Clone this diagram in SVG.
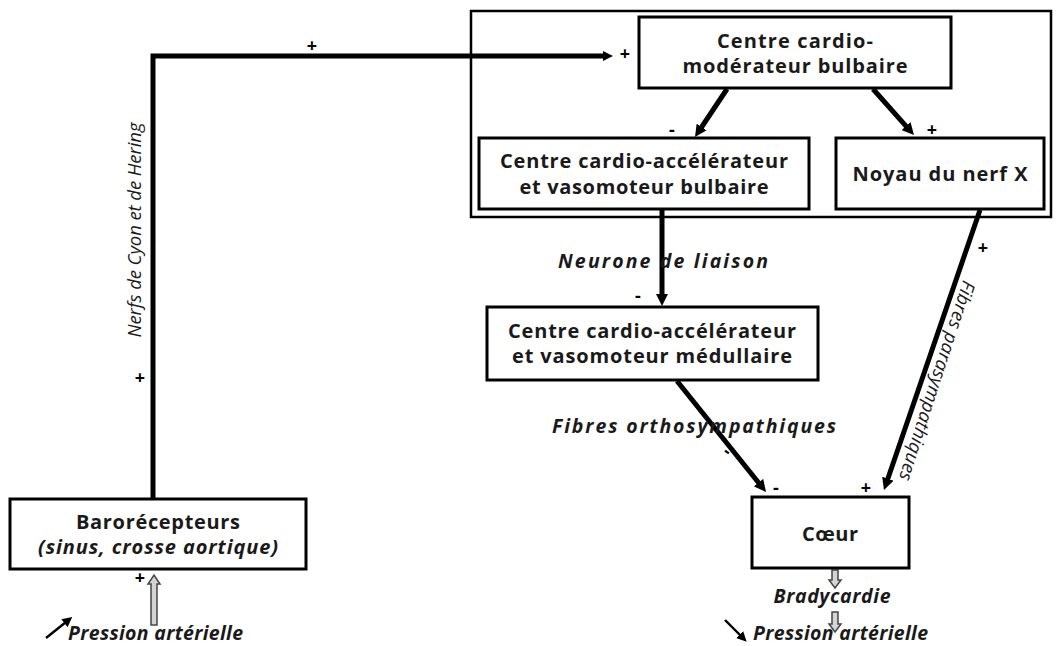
<svg xmlns="http://www.w3.org/2000/svg" width="1057" height="646" viewBox="0 0 1057 646">
<defs>
<style>
.box{fill:#fff;stroke:#000;stroke-width:3}
.cont{fill:none;stroke:#000;stroke-width:2.5}
.t{font-family:"Open Sans","Liberation Sans",sans-serif;font-weight:bold;font-size:20px;fill:#1a1a1a;text-anchor:middle}
.bi{font-family:"Open Sans","Liberation Sans",sans-serif;font-weight:bold;font-style:italic;font-size:19.5px;fill:#1a1a1a}
.it{font-family:"Open Sans","Liberation Sans",sans-serif;font-style:italic;font-size:18.5px;fill:#1a1a1a}
.sg{font-family:"Open Sans","Liberation Sans",sans-serif;font-weight:bold;font-size:18px;fill:#000;text-anchor:middle}
.ln{fill:none;stroke:#000;stroke-width:5}
.hol{fill:#d4d4d4;stroke:#444;stroke-width:1.5}
</style>
<marker id="ah" markerUnits="userSpaceOnUse" markerWidth="14" markerHeight="12" refX="3" refY="6" orient="auto">
<path d="M0,0 L12,6 L0,12 z" fill="#000"/>
</marker>
<marker id="ahs" markerUnits="userSpaceOnUse" markerWidth="12" markerHeight="10" refX="2" refY="5" orient="auto">
<path d="M0,0 L10,5 L0,10 z" fill="#000"/>
</marker>
</defs>
<rect width="1057" height="646" fill="#fff"/>

<g id="conteneur-bulbe"><rect class="cont" x="471" y="11" width="580" height="206"/></g>

<g id="connecteurs">
<polyline class="ln" points="153,500 153,56 605,56" stroke-width="4" marker-end="url(#ahs)"/>
<line class="ln" x1="727" y1="89" x2="700" y2="129.5" marker-end="url(#ah)"/>
<line class="ln" x1="873" y1="89" x2="908" y2="128.3" marker-end="url(#ah)"/>
<line class="ln" x1="662" y1="210" x2="662" y2="297" marker-end="url(#ah)"/>
<line class="ln" x1="677" y1="381" x2="760.4" y2="485" marker-end="url(#ah)"/>
<line class="ln" x1="980" y1="210" x2="886.9" y2="481.5" marker-end="url(#ah)"/>
<path class="hol" d="M151,625 L151,584 L148,584 L154,575 L160,584 L157,584 L157,625 z"/>
<path class="hol" d="M832,570 L832,580 L829,580 L835,588 L841,580 L838,580 L838,570 z"/>
<path class="hol" d="M832,612 L832,624 L829,624 L835,632 L841,624 L838,624 L838,612 z"/>
<line x1="46" y1="638" x2="66" y2="622" stroke="#000" stroke-width="2.4" marker-end="url(#ahs)"/>
<line x1="725" y1="620" x2="741" y2="636" stroke="#000" stroke-width="2.4" marker-end="url(#ahs)"/>
</g>

<g id="labels">
<text class="sg" x="312" y="52">+</text>
<text class="sg" x="625" y="60">+</text>
<text class="sg" x="672" y="136">-</text>
<text class="sg" x="932" y="136">+</text>
<text class="bi" x="558" y="268" textLength="210">Neurone de liaison</text>
<text class="sg" x="638" y="302">-</text>
<text class="bi" x="552" y="433" textLength="284">Fibres orthosympathiques</text>
<text class="sg" x="0" y="0" transform="translate(724,456) rotate(35)">-</text>
<text class="sg" x="776" y="494">-</text>
<text class="sg" x="866" y="494">+</text>
<text class="it" text-anchor="middle" textLength="209" transform="translate(931,379) rotate(108)">Fibres parasympathiques</text>
<text class="sg" x="983" y="254">+</text>
<text class="it" text-anchor="middle" textLength="215" transform="translate(141,230) rotate(-90)">Nerfs de Cyon et de Hering</text>
<text class="sg" x="140" y="384">+</text>
<text class="sg" x="140" y="584">+</text>
<text class="bi" x="68" y="640" font-size="17" textLength="175">Pression artérielle</text>
<text class="bi" x="832" y="603" font-size="16" text-anchor="middle" textLength="117">Bradycardie</text>
<text class="bi" x="753" y="640" font-size="17" textLength="175">Pression artérielle</text>
</g>

<g id="centre-cardio-moderateur">
<rect class="box" x="639" y="17" width="312" height="71"/>
<text class="t" x="795" y="48" textLength="156">Centre cardio-</text>
<text class="t" x="795" y="73" textLength="225">modérateur bulbaire</text>
</g>
<g id="centre-accelerateur-bulbaire">
<rect class="box" x="479" y="138" width="330" height="71"/>
<text class="t" x="644" y="168" textLength="288">Centre cardio-accélérateur</text>
<text class="t" x="644" y="194" textLength="249">et vasomoteur bulbaire</text>
</g>
<g id="noyau-nerf-x">
<rect class="box" x="836" y="138" width="208" height="71"/>
<text class="t" x="940" y="181" textLength="175">Noyau du nerf X</text>
</g>
<g id="centre-accelerateur-medullaire">
<rect class="box" x="487" y="307" width="331" height="73"/>
<text class="t" x="652" y="338" textLength="288">Centre cardio-accélérateur</text>
<text class="t" x="652" y="363" textLength="280">et vasomoteur médullaire</text>
</g>
<g id="barorecepteurs">
<rect class="box" x="10" y="499" width="296" height="70"/>
<text class="t" x="158" y="529" textLength="164">Barorécepteurs</text>
<text class="t" x="158" y="554" font-style="italic" textLength="240">(sinus, crosse aortique)</text>
</g>
<g id="coeur">
<rect class="box" x="752" y="497" width="157" height="71"/>
<text class="t" x="830" y="541" font-weight="normal" font-size="20" textLength="56">Cœur</text>
</g>
</svg>
